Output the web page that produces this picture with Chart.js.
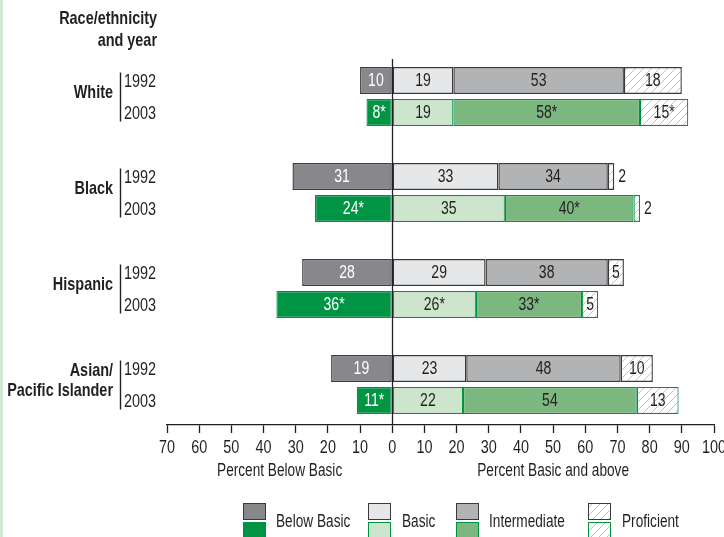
<!DOCTYPE html>
<html>
<head>
<meta charset="utf-8">
<script src="https://cdn.jsdelivr.net/npm/chart.js@4.4.1/dist/chart.umd.min.js"></script>
<style>
  html, body { margin: 0; padding: 0; background: #fff; }
  #wrap { position: relative; width: 724px; height: 537px; }
</style>
</head>
<body>
<div id="wrap"><canvas id="chart" width="724" height="537"></canvas></div>
<script>
const groups = ['White', 'Black', 'Hispanic', 'Asian/\nPacific Islander'];
const years = ['1992', '2003'];

// one value per row: White 1992, White 2003, Black 1992, Black 2003, ...
const belowBasic   = [10, 8, 31, 24, 28, 36, 19, 11];
const basic        = [19, 19, 33, 35, 29, 26, 23, 22];
const intermediate = [53, 58, 34, 40, 38, 33, 48, 54];
const proficient   = [18, 15, 2, 2, 5, 5, 10, 13];

// * = significantly different from 1992
const belowBasicSig   = [false, true, false, true, false, true, false, true];
const basicSig        = [false, false, false, false, false, true, false, false];
const intermediateSig = [false, true, false, true, false, true, false, false];
const proficientSig   = [false, true, false, false, false, false, false, false];

const levels = ['Below Basic', 'Basic', 'Intermediate', 'Proficient'];
const xTicks = { min: -70, max: 100, step: 10 };

// no condensed face installed, so Liberation Sans is squeezed horizontally
const FONT = '"Liberation Sans", Arial, sans-serif';
const SQUEEZE = 0.78;
const INK = '#231f20';
const GRAY_BORDER = '#3a3a3c';
const GREEN_BORDER = '#00913f';

function narrowText(ctx, text, x, y, align, font, color) {
  ctx.save();
  ctx.font = font;
  ctx.fillStyle = color || INK;
  ctx.textAlign = align;
  ctx.textBaseline = 'middle';
  ctx.translate(x, y);
  ctx.scale(SQUEEZE, 1);
  ctx.fillText(text, 0, 0);
  ctx.restore();
}

function narrowWidth(ctx, text, font) {
  ctx.save();
  ctx.font = font;
  const w = ctx.measureText(text).width * SQUEEZE;
  ctx.restore();
  return w;
}

function hatch(color) {
  const c = document.createElement('canvas');
  c.width = 8; c.height = 8;
  const g = c.getContext('2d');
  g.fillStyle = '#fff';
  g.fillRect(0, 0, 8, 8);
  g.strokeStyle = color;
  g.lineWidth = 0.8;
  g.beginPath();
  g.moveTo(0, 8); g.lineTo(8, 0);
  g.moveTo(-2, 2); g.lineTo(2, -2);
  g.moveTo(6, 10); g.lineTo(10, 6);
  g.stroke();
  return g.createPattern(c, 'repeat');
}

const fills = {
  gray: ['#87888b', '#e6e7e8', '#b1b3b5', hatch('#b4b4b4')],
  green: ['#009444', '#cde5cd', '#7bb77f', hatch('#86cb8b')]
};

// row slot on the y axis: two rows per group, one empty slot between groups
const rowPos = belowBasic.map((_, i) => Math.floor(i / 2) * 3 + (i % 2));

function makeDataset(li, ranges, values, sig) {
  return {
    label: levels[li],
    data: ranges.map((r, i) => ({ x: r, y: rowPos[i] })),
    values: values,
    sig: sig,
    level: li,
    backgroundColor: rowPos.map((_, i) => (i % 2 ? fills.green[li] : fills.gray[li])),
    borderColor: rowPos.map((_, i) => (i % 2 ? GREEN_BORDER : GRAY_BORDER)),
    borderWidth: rowPos.map((_, i) => (i % 2 ? 1.2 : 1.4)),
    borderSkipped: false,
    grouped: false,
    categoryPercentage: 1,
    barPercentage: 0.9,
    maxBarThickness: 27
  };
}

const bbRanges = belowBasic.map(v => [-v, 0]);
const basicRanges = basic.map(v => [0, v]);
const interRanges = intermediate.map((v, i) => [basic[i], basic[i] + v]);
const profRanges = proficient.map((v, i) => [basic[i] + intermediate[i], basic[i] + intermediate[i] + v]);

const valueLabels = {
  id: 'valueLabels',
  afterDatasetsDraw(chart) {
    const ctx = chart.ctx;
    const font = '18px ' + FONT;
    chart.data.datasets.forEach((ds, di) => {
      chart.getDatasetMeta(di).data.forEach((bar, i) => {
        const left = Math.min(bar.x, bar.base);
        const right = Math.max(bar.x, bar.base);
        const text = ds.values[i] + (ds.sig[i] ? '*' : '');
        if (right - left < narrowWidth(ctx, text, font) + 2) {
          narrowText(ctx, text, right + 4, bar.y + 1, 'left', font, INK);
        } else {
          narrowText(ctx, text, (left + right) / 2, bar.y + 1, 'center', font, ds.level === 0 ? '#fff' : INK);
        }
      });
    });
    // zero line over the bars
    const x0 = Math.round(chart.scales.x.getPixelForValue(0)) + 0.5;
    ctx.save();
    ctx.strokeStyle = INK;
    ctx.lineWidth = 1.3;
    ctx.beginPath();
    ctx.moveTo(x0, chart.chartArea.top);
    ctx.lineTo(x0, chart.chartArea.bottom);
    ctx.stroke();
    ctx.restore();
  }
};

const sideLabels = {
  id: 'sideLabels',
  beforeDraw(chart) {
    const ctx = chart.ctx;
    ctx.save();
    ctx.fillStyle = '#cfe8cf';
    ctx.fillRect(0, 0, 3, chart.height);
    ctx.restore();
  },
  afterDraw(chart) {
    const ctx = chart.ctx;
    const y = chart.scales.y;
    const x = chart.scales.x;
    const bold = 'bold 18.5px ' + FONT;
    const plain = '18.5px ' + FONT;

    narrowText(ctx, 'Race/ethnicity', 157, 19, 'right', bold);
    narrowText(ctx, 'and year', 157, 41, 'right', bold);

    groups.forEach((g, gi) => {
      const y1 = y.getPixelForValue(rowPos[gi * 2]);
      const y2 = y.getPixelForValue(rowPos[gi * 2 + 1]);
      const mid = (y1 + y2) / 2 - 3.5;
      const lines = g.split('\n');
      lines.forEach((ln, li) => {
        narrowText(ctx, ln, 113, mid + (li - (lines.length - 1) / 2) * 20, 'right', bold);
      });
      ctx.save();
      ctx.strokeStyle = INK;
      ctx.lineWidth = 1.4;
      ctx.beginPath();
      ctx.moveTo(120.5, y1 - 8);
      ctx.lineTo(120.5, y2 + 9);
      ctx.stroke();
      ctx.restore();
      narrowText(ctx, years[0], 124, y1 + 1, 'left', plain);
      narrowText(ctx, years[1], 124, y2 + 1, 'left', plain);
    });

    // x tick labels (absolute values on both sides of zero)
    x.ticks.forEach(t => {
      narrowText(ctx, String(Math.abs(t.value)), x.getPixelForValue(t.value), 448, 'center', plain);
    });

    // axis titles
    const title = '17.5px ' + FONT;
    narrowText(ctx, 'Percent Below Basic', x.getPixelForValue(-35), 471, 'center', title);
    narrowText(ctx, 'Percent Basic and above', x.getPixelForValue(50), 471, 'center', title);

    // legend
    const swatchX = [243, 368, 456, 588];
    const textX = [276, 402, 489, 622];
    levels.forEach((name, li) => {
      ctx.save();
      ctx.fillStyle = fills.gray[li];
      ctx.fillRect(swatchX[li], 503, 23, 17);
      ctx.strokeStyle = GRAY_BORDER;
      ctx.lineWidth = 1;
      ctx.strokeRect(swatchX[li] + 0.5, 503.5, 22, 16);
      ctx.fillStyle = fills.green[li];
      ctx.fillRect(swatchX[li], 522, 23, 17);
      ctx.strokeStyle = GREEN_BORDER;
      ctx.strokeRect(swatchX[li] + 0.5, 522.5, 22, 16);
      ctx.restore();
      narrowText(ctx, name, textX[li], 522, 'left', title);
    });
  }
};

new Chart(document.getElementById('chart'), {
  type: 'bar',
  data: {
    datasets: [
      makeDataset(0, bbRanges, belowBasic, belowBasicSig),
      makeDataset(1, basicRanges, basic, basicSig),
      makeDataset(2, interRanges, intermediate, intermediateSig),
      makeDataset(3, profRanges, proficient, proficientSig)
    ]
  },
  options: {
    responsive: false,
    animation: false,
    indexAxis: 'y',
    layout: { padding: { top: 59, left: 167, right: 10, bottom: 0 } },
    plugins: { legend: { display: false }, tooltip: { enabled: false } },
    scales: {
      x: {
        type: 'linear',
        min: xTicks.min,
        max: xTicks.max,
        ticks: { stepSize: xTicks.step, display: false },
        grid: { drawOnChartArea: false, drawTicks: true, tickLength: 8, tickColor: INK, tickWidth: 1.3 },
        border: { display: true, color: INK, width: 1.3 },
        afterFit(scale) {
          scale.height = 112;
          scale.paddingLeft = 0;
          scale.paddingRight = 0;
        }
      },
      y: {
        type: 'linear',
        reverse: true,
        offset: false,
        bounds: 'data',
        min: -0.672,
        max: 10.766,
        grid: { offset: false },
        display: false
      }
    }
  },
  plugins: [valueLabels, sideLabels]
});
</script>
</body>
</html>
